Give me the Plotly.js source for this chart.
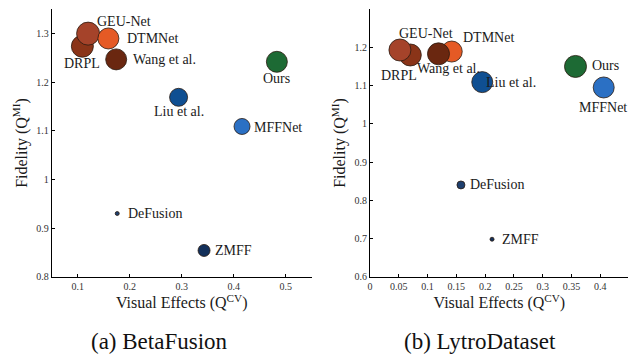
<!DOCTYPE html>
<html><head><meta charset="utf-8">
<script src="https://cdn.plot.ly/plotly-3.0.1.min.js"></script>
</head><body style="margin:0;overflow:hidden">
<div id="chart" style="width:640px;height:356px"></div>
<script>
// ---- data ----
const methods   = ['DRPL','GEU-Net','DTMNet','Wang et al.','Ours','Liu et al.','MFFNet','DeFusion','ZMFF'];
const betaQcv   = [0.109,0.120,0.159,0.174,0.483,0.294,0.416,0.176,0.343];
const betaQmi   = [1.274,1.300,1.290,1.247,1.242,1.169,1.109,0.930,0.854];
const betaBubble  = [22,23,21,21,21,18,16,4,12];
const lytroQcv  = [0.070,0.052,0.142,0.119,0.357,0.195,0.406,0.158,0.212];
const lytroQmi  = [1.180,1.193,1.189,1.183,1.150,1.109,1.095,0.840,0.698];
const lytroBubble = [22,22,21,22,22,21,21,8,4];
const panelTitles = ['(a) BetaFusion','(b) LytroDataset'];

// ---- styles ----
const methodColors = ['#8a3418','#a5432a','#e55a25','#6a2710','#1d6a34','#0f4f92','#2b70c4','#1e3f6e','#13305a'];
// label placement per method: [xanchor, xshift, yshift]
const labelStyleA = [['center',0,-17],['center',36,12],['left',17,0],['left',15,0],['center',0,-17],['center',0,-14],['left',10,-1],['left',9,0],['left',9,0]];
const labelStyleB = [['center',-11,-21],['center',26,17],['center',37,14],['center',10,-15],['left',14,1],['left',2,0],['center',-1,-20],['left',7,0],['left',8,0]];

const W = 640, H = 356;
const FONT = 'Liberation Serif';
const yDom = [(H-276.7)/H, (H-9.3)/H];
const xDomA = [51.7/W, 311.7/W];
const xDomB = [370/W, 628.75/W];

function trace(xs, ys, sz, xa, ya){
  return {type:'scatter', mode:'markers', x:xs, y:ys, xaxis:xa, yaxis:ya,
    marker:{size:sz, color:methodColors, opacity:1, line:{color:'#2a1a10', width:0.8}},
    hoverinfo:'skip', showlegend:false};
}
function labels(xs, ys, st, xr, yr){
  return methods.map((m,i)=>({text:m, x:xs[i], y:ys[i], xref:xr, yref:yr, showarrow:false,
    xanchor:st[i][0], yanchor:'middle', xshift:st[i][1], yshift:st[i][2],
    font:{family:FONT, size:14, color:'#1a1a1a'}}));
}
const tickFont = {family:FONT, size:10, color:'#333'};
function mainX(dom, rng, dt, t0, anchor){
  return {domain:dom, range:rng, dtick:dt, tick0:t0, anchor:anchor, ticks:'inside', ticklen:3, tickcolor:'#000',
    showline:true, linecolor:'#000', linewidth:1, showgrid:false, zeroline:false, tickfont:tickFont,
    title:{text:'Visual Effects (Q<sup>CV</sup>)', font:{family:FONT, size:16, color:'#1a1a1a'}, standoff:6}};
}
function mainY(dom, rng, anchor){
  return {domain:dom, range:rng, dtick:0.1, tick0:0, anchor:anchor, ticks:'inside', ticklen:3, tickcolor:'#000',
    showline:true, linecolor:'#000', linewidth:1, showgrid:false, zeroline:false, tickfont:tickFont,
    title:{text:'Fidelity (Q<sup>MI</sup>)', font:{family:FONT, size:16, color:'#1a1a1a'}, standoff:4}};
}
function mirrorAx(over, anchor, side, rng, dt, t0){
  return {overlaying:over, anchor:anchor, side:side, range:rng, dtick:dt, tick0:t0, ticks:'inside', ticklen:3,
    tickcolor:'#777', showline:true, linecolor:'#777', linewidth:1, showgrid:false, zeroline:false, showticklabels:false};
}

const data = [trace(betaQcv, betaQmi, betaBubble, 'x', 'y'), trace(lytroQcv, lytroQmi, lytroBubble, 'x2', 'y2')];
const layout = {
  width:W, height:H, margin:{l:0,r:0,t:0,b:0}, paper_bgcolor:'#fff', plot_bgcolor:'#fff',
  xaxis: mainX(xDomA, [0.05,0.55], 0.1, 0, 'y'),
  yaxis: mainY(yDom, [0.8,1.35], 'x'),
  xaxis2: mainX(xDomB, [0,0.4495], 0.05, 0, 'y2'),
  yaxis2: mainY(yDom, [0.6,1.2995], 'x2'),
  xaxis3: mirrorAx('x','y','top',[0.05,0.55],0.1,0),
  yaxis3: mirrorAx('y','x','right',[0.8,1.35],0.1,0),
  xaxis4: mirrorAx('x2','y2','top',[0,0.4495],0.05,0),
  yaxis4: mirrorAx('y2','x2','right',[0.6,1.2995],0.1,0),
  annotations: [
    ...labels(betaQcv, betaQmi, labelStyleA, 'x', 'y'),
    ...labels(lytroQcv, lytroQmi, labelStyleB, 'x2', 'y2'),
    {text:panelTitles[0], x:159.7/W, y:(H-341.7)/H, xref:'paper', yref:'paper', showarrow:false, xanchor:'center', yanchor:'middle', font:{family:FONT, size:23, color:'#111'}},
    {text:panelTitles[1], x:480/W, y:(H-341.7)/H, xref:'paper', yref:'paper', showarrow:false, xanchor:'center', yanchor:'middle', font:{family:FONT, size:23, color:'#111'}}
  ]
};
Plotly.newPlot('chart', data, layout, {displayModeBar:false});
</script></body></html>
